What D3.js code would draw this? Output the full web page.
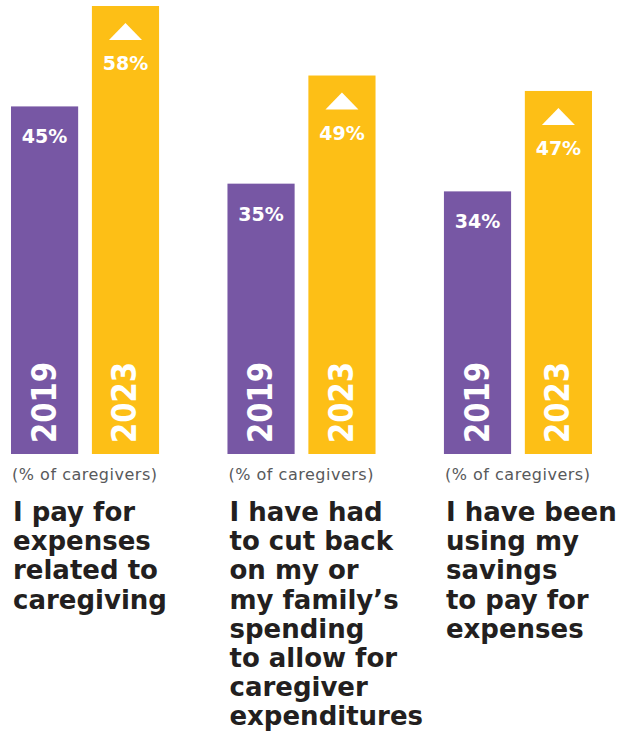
<!DOCTYPE html>
<html>
<head>
<meta charset="utf-8">
<script src="https://cdn.jsdelivr.net/npm/d3@7"></script>
<style>
  body { margin: 0; background: #fff; }
  svg { display: block; }
</style>
</head>
<body>
<div id="chart"></div>
<script>
const years = ["2019", "2023"];
const values2019 = [45, 35, 34];
const values2023 = [58, 49, 47];
const categoryLines = [
  ["I pay for", "expenses", "related to", "caregiving"],
  ["I have had", "to cut back", "on my or", "my family\u2019s", "spending", "to allow for", "caregiver", "expenditures"],
  ["I have been", "using my", "savings", "to pay for", "expenses"],
];
const unitNote = "(% of caregivers)";

const width = 621;
const height = 734;
const colors = { "2019": "#7757a4", "2023": "#fdbf16" };
const font = "'DejaVu Sans', sans-serif";

const svg = d3
  .select("#chart")
  .append("svg")
  .attr("width", width)
  .attr("height", height);

const groups = d3.range(categoryLines.length);
const x0 = d3.scaleBand().domain(groups).range([11, 592]).paddingInner(0.316);
const x1 = d3.scaleBand().domain(years).range([0, x0.bandwidth()]).paddingInner(0.17);

const baseY = 454;
const y = d3
  .scaleLinear()
  .domain([0, d3.max(values2023)])
  .range([baseY, 6]);

const rows = groups.map((i) => ({
  i,
  bars: [
    { year: "2019", value: values2019[i], up: false },
    { year: "2023", value: values2023[i], up: true },
  ],
}));

const g = svg
  .selectAll(".group")
  .data(rows)
  .enter()
  .append("g")
  .attr("class", "group")
  .attr("transform", (d) => `translate(${x0(d.i)},0)`);

const bar = g
  .selectAll(".bar")
  .data((d) => d.bars)
  .enter()
  .append("g")
  .attr("class", "bar");

bar
  .append("rect")
  .attr("x", (d) => x1(d.year))
  .attr("y", (d) => y(d.value))
  .attr("width", x1.bandwidth())
  .attr("height", (d) => baseY - y(d.value))
  .attr("fill", (d) => colors[d.year]);

// up-arrow triangle on 2023 bars
bar
  .filter((d) => d.up)
  .append("path")
  .attr("fill", "#fff")
  .attr("d", (d) => {
    const cx = x1(d.year) + x1.bandwidth() / 2;
    const top = y(d.value) + 17;
    return `M${cx},${top}L${cx + 16.5},${top + 17}L${cx - 16.5},${top + 17}Z`;
  });

// value labels
bar
  .append("text")
  .attr("x", (d) => x1(d.year) + x1.bandwidth() / 2)
  .attr("y", (d) => y(d.value) + (d.up ? 64 : 37))
  .attr("text-anchor", "middle")
  .attr("fill", "#fff")
  .style("font-family", font)
  .style("font-weight", "bold")
  .style("font-size", "19px")
  .text((d) => `${d.value}%`);

// rotated year labels
bar
  .append("text")
  .attr(
    "transform",
    (d) => `translate(${x1(d.year) + x1.bandwidth() / 2 + 11},${baseY - 11}) rotate(-90)`,
  )
  .attr("fill", "#fff")
  .attr("textLength", 81)
  .attr("lengthAdjust", "spacingAndGlyphs")
  .style("font-family", font)
  .style("font-weight", "bold")
  .style("font-size", "34px")
  .text((d) => d.year);

// unit note
g.append("text")
  .attr("x", 1)
  .attr("y", 480)
  .attr("fill", "#58595b")
  .attr("textLength", 145)
  .style("font-family", font)
  .style("font-size", "16px")
  .text(unitNote);

// category labels
const label = g
  .append("text")
  .attr("fill", "#231f20")
  .style("font-family", font)
  .style("font-weight", "bold")
  .style("font-size", "26px");

label
  .selectAll("tspan")
  .data((d) => categoryLines[d.i])
  .enter()
  .append("tspan")
  .attr("x", 2)
  .attr("y", (d, k) => 521 + k * 29.2)
  .text((d) => d);
</script>
</body>
</html>
